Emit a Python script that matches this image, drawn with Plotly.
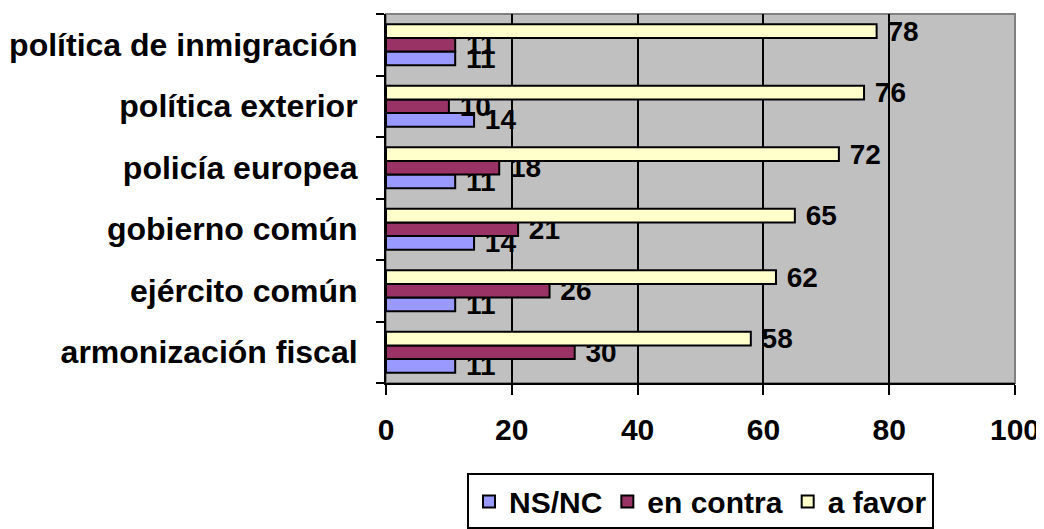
import plotly.graph_objects as go

categorias = ["armonización fiscal", "ejército común", "gobierno común",
              "policía europea", "política exterior", "política de inmigración"]
ns_nc = [11, 11, 14, 11, 14, 11]
en_contra = [30, 26, 21, 18, 10, 11]
a_favor = [58, 62, 65, 72, 76, 78]

familia = "Liberation Sans, Arial, sans-serif"

def barra(nombre, valores, color):
    return go.Bar(
        y=categorias, x=valores, name=nombre, orientation="h",
        marker=dict(color=color, line=dict(color="black", width=2)),
        text=valores, texttemplate=" %{x}", textposition="outside",
        cliponaxis=False, constraintext="none",
        textfont=dict(family=familia, size=28, color="black", weight="bold"),
    )

fig = go.Figure([
    barra("NS/NC", ns_nc, "#9999FF"),
    barra("en contra", en_contra, "#993366"),
    barra("a favor", a_favor, "#FFFFCC"),
])

# la página deja 8 px de margen, así que la figura es 8 px más pequeña
fig.update_layout(
    width=1036, height=521,
    margin=dict(l=378, r=29, t=6, b=146, autoexpand=False),
    barmode="group", bargap=0.33, bargroupgap=0,
    paper_bgcolor="white", plot_bgcolor="#C0C0C0",
    font=dict(family=familia, size=28, color="black", weight="bold"),
    legend=dict(orientation="h", x=0.5, xanchor="center", y=-0.245, yanchor="top",
                bordercolor="black", borderwidth=2,
                font=dict(size=30, weight="bold"),
                traceorder="normal", itemwidth=30, tracegroupgap=0),
    # borde gris del área de trazado (arriba y derecha)
    shapes=[dict(type="rect", xref="paper", yref="paper", x0=0, x1=1, y0=0, y1=1,
                 line=dict(color="#808080", width=2), layer="below")],
)
fig.update_xaxes(range=[0, 100], dtick=20, showgrid=True, gridcolor="black", gridwidth=2,
                 showline=True, linecolor="black", linewidth=2, ticks="outside",
                 ticklen=10, tickwidth=2, tickcolor="black", zeroline=False,
                 automargin=False,
                 tickfont=dict(size=30, weight="bold"), ticklabelstandoff=9)
fig.update_yaxes(showline=True, linecolor="black", linewidth=2, ticks="outside",
                 ticklen=8, tickwidth=2, tickcolor="black", ticklabelstandoff=20,
                 automargin=False,
                 tickson="boundaries", tickfont=dict(size=32, weight="bold"))

fig.write_html("out.html")
